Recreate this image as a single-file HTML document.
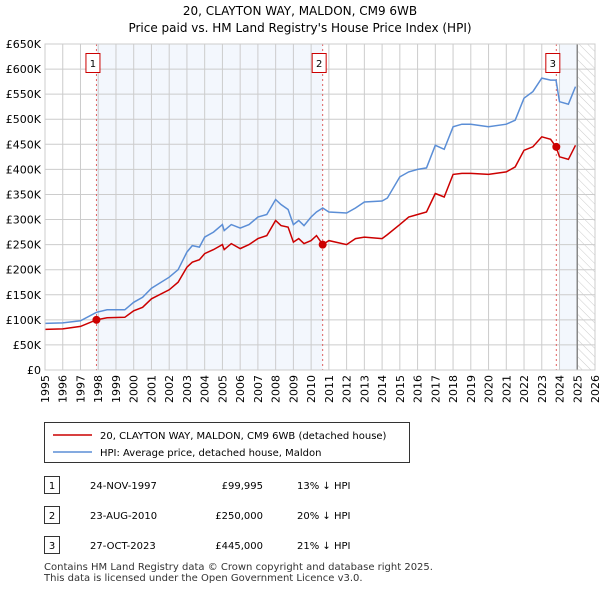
<!DOCTYPE html>
<html><head><meta charset="utf-8"><style>
body{margin:0;background:#fff;font-family:"Liberation Sans",sans-serif;}
svg text{font-family:"DejaVu Sans","Liberation Sans",sans-serif;}
</style></head><body>
<svg width="600" height="590" viewBox="0 0 600 590" xmlns="http://www.w3.org/2000/svg">
<text x="300" y="15" text-anchor="middle" font-size="12">20, CLAYTON WAY, MALDON, CM9 6WB</text>
<text x="300" y="32" text-anchor="middle" font-size="12">Price paid vs. HM Land Registry's House Price Index (HPI)</text>
<defs><pattern id="hatch" width="6" height="6" patternUnits="userSpaceOnUse" patternTransform="rotate(-45)"><line x1="0" y1="0" x2="0" y2="6" stroke="#ccc" stroke-width="1"/></pattern></defs>
<g id="plot"></g>
<g>
<rect x="44.5" y="422.5" width="365" height="40" fill="#fff" stroke="#333"/>
<line x1="53" y1="435" x2="92" y2="435" stroke="#cc0000" stroke-width="1.5"/>
<text x="100" y="439" font-size="10">20, CLAYTON WAY, MALDON, CM9 6WB (detached house)</text>
<line x1="53" y1="452" x2="92" y2="452" stroke="#5b8ed6" stroke-width="1.5"/>
<text x="100" y="456" font-size="10">HPI: Average price, detached house, Maldon</text>
</g>
<g font-size="10">
<rect x="44.5" y="476.5" width="15" height="17" fill="#fff" stroke="#333"/><text x="52" y="489" text-anchor="middle">1</text>
<text x="90" y="489">24-NOV-1997</text><text x="263" y="489" text-anchor="end">£99,995</text><text x="297" y="489">13% ↓ HPI</text>
<rect x="44.5" y="506.5" width="15" height="17" fill="#fff" stroke="#333"/><text x="52" y="519" text-anchor="middle">2</text>
<text x="90" y="519">23-AUG-2010</text><text x="263" y="519" text-anchor="end">£250,000</text><text x="297" y="519">20% ↓ HPI</text>
<rect x="44.5" y="536.5" width="15" height="17" fill="#fff" stroke="#333"/><text x="52" y="549" text-anchor="middle">3</text>
<text x="90" y="549">27-OCT-2023</text><text x="263" y="549" text-anchor="end">£445,000</text><text x="297" y="549">21% ↓ HPI</text>
</g>
<text x="44" y="570" font-size="10" fill="#333">Contains HM Land Registry data © Crown copyright and database right 2025.</text>
<text x="44" y="581" font-size="10" fill="#333">This data is licensed under the Open Government Licence v3.0.</text>
</svg>
<script>
const years=[1995,1996,1997,1997.9,1998.5,1999.5,2000,2000.5,2001,2002,2002.5,2003,2003.3,2003.7,2004,2004.5,2005,2005.1,2005.5,2006,2006.5,2007,2007.5,2008,2008.3,2008.7,2009,2009.3,2009.6,2010,2010.3,2010.65,2011,2012,2012.5,2013,2014,2014.3,2015,2015.5,2016,2016.5,2017,2017.5,2018,2018.5,2019,2020,2021,2021.5,2022,2022.5,2023,2023.5,2023.8,2024,2024.5,2024.9];
const hpiValues=[93,94,98,115,120,120,135,145,163,185,200,235,248,245,265,275,290,278,290,283,290,305,310,340,330,320,290,298,288,305,315,323,315,313,323,335,337,343,385,395,400,403,448,440,485,490,490,485,490,498,542,555,582,578,578,535,530,565];
const priceValues=[81,82,87,100,104,105,118,125,142,160,175,205,215,220,232,240,250,240,252,242,250,262,268,298,288,285,255,262,252,258,268,250,258,250,262,265,262,270,290,305,310,315,352,345,390,392,392,390,395,405,438,445,465,460,445,425,420,448];
const saleYears=[1997.9,2010.65,2023.82];
const saleValues=[99.995,250,445];
const saleLabels=["1","2","3"];
const yTicks=[0,50,100,150,200,250,300,350,400,450,500,550,600,650];
const yTickLabels=["£0","£50K","£100K","£150K","£200K","£250K","£300K","£350K","£400K","£450K","£500K","£550K","£600K","£650K"];
const xTicks=[1995,1996,1997,1998,1999,2000,2001,2002,2003,2004,2005,2006,2007,2008,2009,2010,2011,2012,2013,2014,2015,2016,2017,2018,2019,2020,2021,2022,2023,2024,2025,2026];
const dataEnd=2025.0;

const X0=45,X1=595,Y0=370,Y1=44;
const sx=v=>X0+(v-1995)/(2026-1995)*(X1-X0);
const sy=v=>Y0-v/650*(Y0-Y1);
const NS="http://www.w3.org/2000/svg";
const g=document.getElementById('plot');
function mk(t,a){const e=document.createElementNS(NS,t);for(const k in a)e.setAttribute(k,a[k]);g.appendChild(e);return e;}
let r=mk('rect',{x:sx(saleYears[0]),y:Y1,width:sx(saleYears[1])-sx(saleYears[0]),height:Y0-Y1,fill:'#eef3fc',opacity:0.7});


r=mk('rect',{x:sx(2024),y:Y1,width:sx(dataEnd)-sx(2024),height:Y0-Y1,fill:'#eef3fc',opacity:0.7});


r=mk('rect',{x:sx(dataEnd),y:Y1,width:X1-sx(dataEnd),height:Y0-Y1,fill:'url(#hatch)'});


yTicks.forEach((t,i)=>{
 mk('line',{x1:X0,x2:X1,y1:sy(t),y2:sy(t),stroke:'#ccc'});
 const tx=mk('text',{x:X0-4,y:sy(t)+4,'text-anchor':'end','font-size':11});
 tx.textContent=yTickLabels[i];
 
 
});
xTicks.forEach(t=>{
 mk('line',{x1:sx(t),x2:sx(t),y1:Y1,y2:Y0,stroke:'#ccc'});
 const tx=mk('text',{x:0,y:0,'text-anchor':'end','font-size':11,transform:`translate(${sx(t)+4},${Y0+5}) rotate(-90)`});
 tx.textContent=t;
 
 
});
mk('line',{x1:sx(dataEnd),x2:sx(dataEnd),y1:Y1,y2:Y0,stroke:'#888','stroke-width':1.5});
saleYears.forEach((y,i)=>{
 mk('line',{x1:sx(y),x2:sx(y),y1:Y1,y2:Y0,stroke:'#e06060','stroke-dasharray':'2,3'});
 const b=mk('rect',{x:sx(y)-10.5,y:53.5,width:14,height:19,fill:'#fff',stroke:'#cc0000'});
 
 
 const t=mk('text',{x:sx(y)-3.5,y:67,'text-anchor':'middle','font-size':10});
 t.textContent=saleLabels[i];
 
 
});
const pts=a=>years.map((y,i)=>sx(y).toFixed(1)+','+sy(a[i]).toFixed(1)).join(' ');
let l=mk('polyline',{points:pts(hpiValues),fill:'none',stroke:'#5b8ed6','stroke-width':1.5});


l=mk('polyline',{points:pts(priceValues),fill:'none',stroke:'#cc0000','stroke-width':1.5});


saleYears.forEach((y,i)=>{
 const c=mk('circle',{cx:sx(y),cy:sy(saleValues[i]),r:4,fill:'#cc0000'});
 
 
});
mk('rect',{x:X0,y:Y1,width:X1-X0,height:Y0-Y1,fill:'none',stroke:'#ccc'});
</script>
</body></html>
